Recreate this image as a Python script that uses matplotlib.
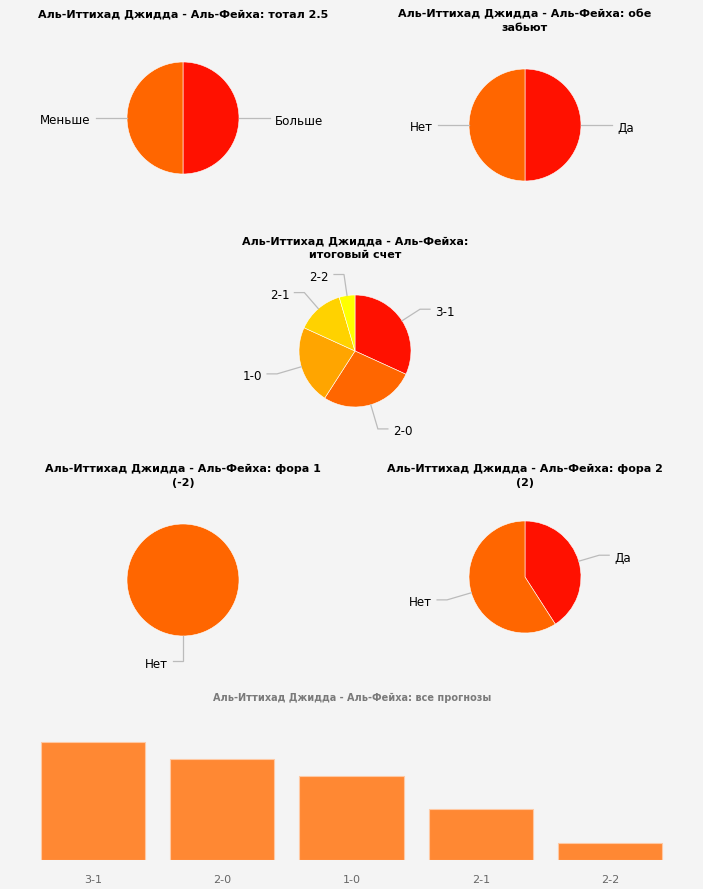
import numpy as np
import matplotlib
matplotlib.use('Agg')
import matplotlib.pyplot as plt

W, H = 703, 889
BG = '#F4F4F4'

prefix = 'Аль-Иттихад Джидда - Аль-Фейха: '

total_title = prefix + 'тотал 2.5'
total_labels = ['Больше', 'Меньше']
total_values = [1, 1]

btts_title = prefix + 'обе\nзабьют'
btts_labels = ['Да', 'Нет']
btts_values = [1, 1]

score_title = 'Аль-Иттихад Джидда - Аль-Фейха:\nитоговый счет'
score_labels = ['3-1', '2-0', '1-0', '2-1', '2-2']
score_values = [7, 6, 5, 3, 1]

h1_title = prefix + 'фора 1\n(-2)'
h1_labels = ['Нет']
h1_values = [1]

h2_title = prefix + 'фора 2\n(2)'
h2_labels = ['Да', 'Нет']
h2_values = [9, 13]

bar_title = prefix + 'все прогнозы'
bar_labels = score_labels
bar_values = score_values

RED = '#FF1100'
ORANGE = '#FF6600'
score_colors = [RED, ORANGE, '#FFA500', '#FFD200', '#FFFF00']

plt.rcParams['font.family'] = ['DejaVu Sans']
fig = plt.figure(figsize=(W / 100, H / 100), dpi=100)
fig.patch.set_facecolor(BG)


def pie_at(cx, cy, labels, values, colors, r_px=56, box=200):
    ax = fig.add_axes([(cx - box / 2) / W, 1 - (cy + box / 2) / H, box / W, box / H])
    ax.set_facecolor('none')
    wedges, _ = ax.pie(values, colors=colors, startangle=90, counterclock=False,
                       radius=1, wedgeprops=dict(edgecolor='white', linewidth=0.4))
    lim = box / 2 / r_px
    ax.set_xlim(-lim, lim)
    ax.set_ylim(-lim, lim)
    ax.set_aspect('equal')
    ax.axis('off')
    for w, lab in zip(wedges, labels):
        m = np.deg2rad((w.theta1 + w.theta2) / 2)
        c, s = np.cos(m), np.sin(m)
        ex, ey = c, s
        k = 1.38 if s > -0.2 else 1.45
        bx, by = k * c, k * s
        right = c > 1e-6
        sgn = 1 if right else -1
        hx = bx + sgn * 10 / r_px
        tx = hx + sgn * 5 / r_px
        ax.plot([ex, bx, hx], [ey, by, by], color='#BBBBBB', lw=0.9, clip_on=False,
                solid_joinstyle='miter')
        ax.text(tx, by - 3 / r_px, lab, ha='left' if right else 'right', va='center',
                fontsize=8.6, color='#000000', clip_on=False)
    return ax


def title_at(cx, ytop, text):
    fig.text(cx / W, 1 - ytop / H, text, ha='center', va='top', fontsize=8,
             fontweight='bold', color='#000000', linespacing=1.45)


title_at(183, 9, total_title)
pie_at(183, 118, total_labels, total_values, [RED, ORANGE])

title_at(525, 9, btts_title)
pie_at(525, 125, btts_labels, btts_values, [RED, ORANGE])

title_at(355, 236, score_title)
pie_at(355, 351, score_labels, score_values, score_colors)

title_at(183, 464, h1_title)
pie_at(183, 580, h1_labels, h1_values, [ORANGE])

title_at(525, 464, h2_title)
pie_at(525, 577, h2_labels, h2_values, [RED, ORANGE])

# bar chart
left, right, top, bottom = 28.4, 674.6, 725, 860
bax = fig.add_axes([left / W, 1 - bottom / H, (right - left) / W, (bottom - top) / H])
bax.set_facecolor('none')
x = np.arange(len(bar_values))
bax.bar(x, bar_values, width=0.805, color='#FF8833', edgecolor='#FFC9A3', linewidth=0.8)
bax.set_xlim(-0.5, len(bar_values) - 0.5)
bax.set_ylim(0, 8)
bax.set_xticks(x)
bax.set_xticklabels(bar_labels, fontsize=8, color='#666666')
bax.tick_params(axis='x', length=0, pad=11)
bax.set_yticks([])
for sp in bax.spines.values():
    sp.set_visible(False)

fig.text(352 / W, 1 - 698 / H, bar_title, ha='center', va='center', fontsize=7,
         fontweight='bold', color='#7A7A7A')

fig.savefig('out.png', dpi=100, facecolor=BG)
